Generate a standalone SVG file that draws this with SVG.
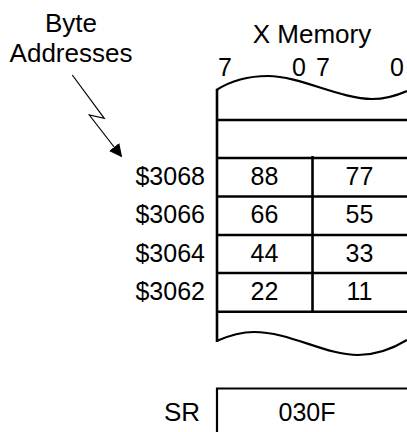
<svg xmlns="http://www.w3.org/2000/svg" width="407" height="432" viewBox="0 0 407 432">
<style>
text{font-family:"Liberation Sans",Arial,sans-serif;font-size:25px;fill:#000}
.big{font-size:26px}
.c{text-anchor:middle}
.r{text-anchor:end}
.thick{stroke:#000;stroke-width:2.6;fill:none}
.wave{stroke:#000;stroke-width:2.2;fill:none}
.thin{stroke:#000;stroke-width:1.2;fill:none}
</style>
<defs>
<marker id="ah" viewBox="0 0 13 13" refX="12" refY="6.5" markerWidth="13" markerHeight="13" markerUnits="userSpaceOnUse" orient="auto">
<path d="M0,0 L13,6.5 L0,13 Z" fill="#000"/>
</marker>
</defs>
<rect width="407" height="432" fill="#fff"/>
<g id="label-byte-addresses">
<text class="c big" x="71" y="32">Byte</text>
<text class="c big" x="71" y="61.5">Addresses</text>
</g>
<g id="header">
<text class="c big" x="312" y="43">X Memory</text>
<text x="218" y="76">7</text>
<text x="292" y="76">0</text>
<text x="316" y="76">7</text>
<text x="390" y="76">0</text>
</g>
<g id="memory">
<path class="wave" d="M216.5,90 C232,80 250,76 268,76 C300,76 340,99 372,99 C388,99 398,95 407,91"/>
<line class="thick" x1="217" y1="89" x2="217" y2="342"/>
<line class="thick" x1="217" y1="120" x2="407" y2="120"/>
<line class="thick" x1="217" y1="158" x2="407" y2="158"/>
<line class="thick" x1="217" y1="196.5" x2="407" y2="196.5"/>
<line class="thick" x1="217" y1="235" x2="407" y2="235"/>
<line class="thick" x1="217" y1="273" x2="407" y2="273"/>
<line class="thick" x1="217" y1="311.7" x2="407" y2="311.7"/>
<line class="thick" x1="312.5" y1="156" x2="312.5" y2="311.7"/>
<path class="wave" d="M216.5,341 C228,336 240,332 254,332 C290,332 325,355 358,355 C378,355 394,348 407,340"/>
</g>
<g id="row-3068">
<text class="r" x="205" y="185">$3068</text>
<text class="c" x="264.5" y="185">88</text>
<text class="c" x="359.5" y="185">77</text>
</g>
<g id="row-3066">
<text class="r" x="205" y="223.3">$3066</text>
<text class="c" x="264.5" y="223.3">66</text>
<text class="c" x="359.5" y="223.3">55</text>
</g>
<g id="row-3064">
<text class="r" x="205" y="261.7">$3064</text>
<text class="c" x="264.5" y="261.7">44</text>
<text class="c" x="359.5" y="261.7">33</text>
</g>
<g id="row-3062">
<text class="r" x="205" y="300">$3062</text>
<text class="c" x="264.5" y="300">22</text>
<text class="c" x="359.5" y="300">11</text>
</g>
<g id="sr">
<path class="wave" d="M217,433 L217,388.5 L407,388.5"/>
<text class="r big" x="200" y="420.7">SR</text>
<text class="c" x="307" y="420.7">030F</text>
</g>
<g id="connectors">
<polyline class="thin" points="72.3,75 104.3,118.3 89.3,115 121.5,156.5" marker-end="url(#ah)"/>
</g>
</svg>
